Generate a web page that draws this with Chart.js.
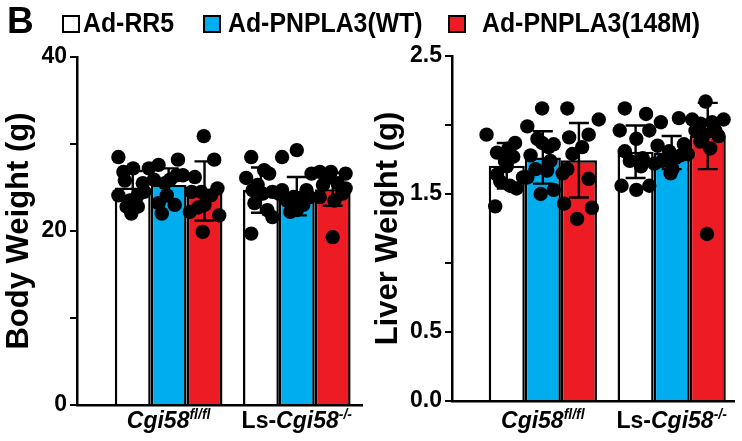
<!DOCTYPE html>
<html><head><meta charset="utf-8">
<script src="https://cdn.jsdelivr.net/npm/chart.js@4.4.1/dist/chart.umd.min.js"></script>
<style>
html,body{margin:0;padding:0;background:#fff;}
#wrap{position:relative;width:742px;height:441px;overflow:hidden;font-family:"Liberation Sans",Arial,sans-serif;color:#000;}
canvas{position:absolute;top:0;}
#c1{left:0;}
#c2{left:370px;}
.t{position:absolute;font-weight:bold;line-height:1;white-space:nowrap;transform-origin:0 0;}
.box{position:absolute;box-sizing:border-box;width:18px;height:18px;border:2px solid #000;top:15px;}
</style></head>
<body><div id="wrap">
<canvas id="c1" width="370" height="441"></canvas>
<canvas id="c2" width="372" height="441"></canvas>
<div class="t" style="left:7px;top:2px;font-size:37px;">B</div>
<div id="legend"></div>
</div>
<script>
// ---- data ----
const groups = ['Cgi58fl/fl', 'Ls-Cgi58-/-'];
const seriesNames = ['Ad-RR5', 'Ad-PNPLA3(WT)', 'Ad-PNPLA3(148M)'];
const seriesColors = ['#ffffff', '#00aeef', '#ed1c24'];

const bodyTickLabels = ['0', '20', '40'];
const liverTickLabels = ['0.0', '0.5', '1.5', '2.5'];

// Body weight (g): mean and SD per group
const bodyMeanRR5 = [25.0, 24.7];
const bodyMeanWT = [25.3, 24.0];
const bodyMean148M = [24.6, 24.8];
const bodySdRR5 = [1.9, 2.6];
const bodySdWT = [1.9, 2.2];
const bodySd148M = [3.4, 1.9];

// Body weight individual points (per group) and horizontal jitter (bar-width units)
const bodyDotsRR5 = [[28.5, 26.8, 27.2, 24.1, 22.8, 22.0, 22.8, 25.5, 24.1, 24.5, 23.5, 25.8],
                     [28.5, 26.1, 25.3, 26.6, 23.2, 22.4, 21.6, 19.7, 24.3, 24.7, 24.5, 27.0]];
const bodyJitRR5 = [[-0.40, -0.26, 0.01, -0.40, -0.17, -0.04, 0.14, 0.28, 0.14, 0.32, -0.08, -0.22],
                    [-0.27, -0.41, -0.09, 0.23, -0.18, 0.18, 0.32, -0.27, 0.05, -0.23, 0.32, 0.09]];
const bodyDotsWT = [[27.6, 27.2, 25.9, 25.5, 28.2, 26.4, 25.9, 23.2, 22.0, 23.0, 24.1, 26.4],
                    [28.5, 29.3, 24.7, 23.9, 22.2, 23.0, 23.9, 22.4, 23.5, 24.7, 23.8, 24.3]];
const bodyJitWT = [[-0.28, -0.55, -0.41, -0.10, 0.26, 0.22, 0.04, -0.28, -0.19, 0.17, -0.05, 0.40],
                   [-0.41, 0.00, -0.41, -0.09, -0.18, 0.18, 0.36, 0.00, -0.27, 0.27, 0.09, -0.50]];
const bodyDots148M = [[30.9, 28.2, 26.2, 24.5, 24.5, 24.9, 22.2, 23.0, 21.8, 19.9, 24.1, 22.7],
                      [26.6, 26.8, 26.8, 26.6, 25.3, 25.5, 24.9, 23.9, 23.5, 24.3, 19.3, 26.1]];
const bodyJit148M = [[-0.02, 0.27, -0.27, -0.36, -0.09, 0.36, -0.41, 0.00, 0.41, -0.05, 0.18, -0.18],
                     [-0.59, -0.36, -0.05, 0.36, -0.27, 0.14, 0.36, -0.36, 0.05, 0.27, 0.00, -0.14]];

// Liver weight (g)
const liverMeanRR5 = [1.705, 1.806];
const liverMeanWT = [1.765, 1.80];
const liverMean148M = [1.745, 1.92];
const liverSdRR5 = [0.165, 0.19];
const liverSdWT = [0.19, 0.12];
const liverSd148M = [0.27, 0.24];

const liverDotsRR5 = [[1.93, 1.80, 1.77, 1.87, 1.74, 1.64, 1.59, 1.56, 1.54, 1.41, 1.62, 1.70, 1.83],
                      [2.12, 2.08, 1.96, 1.96, 1.90, 1.81, 1.74, 1.70, 1.56, 1.53, 1.56, 1.76]];
const liverJitRR5 = [[-0.56, -0.27, 0.18, 0.23, -0.05, -0.27, -0.18, 0.09, 0.27, -0.32, 0.45, 0.00, 0.05],
                     [-0.30, 0.29, -0.44, 0.38, 0.02, -0.30, -0.16, 0.15, -0.39, 0.02, 0.38, 0.20]];
const liverDotsWT = [[1.99, 2.12, 1.90, 1.87, 1.78, 1.84, 1.86, 1.68, 1.67, 1.50, 1.53, 1.62, 1.74],
                     [2.02, 1.85, 1.81, 1.86, 1.74, 1.68, 1.65, 1.78, 2.05, 1.79, 1.72, 1.76]];
const liverJitWT = [[-0.43, -0.02, -0.15, -0.02, -0.34, 0.16, 0.30, -0.20, 0.12, -0.06, 0.30, -0.43, 0.21],
                    [-0.30, -0.39, -0.07, 0.34, -0.25, 0.02, -0.03, 0.25, 0.20, 0.45, -0.48, 0.10]];
const liverDots148M = [[2.12, 2.04, 1.93, 1.91, 1.84, 1.79, 1.68, 1.65, 1.61, 1.43, 1.40, 1.32],
                       [2.17, 2.04, 2.01, 2.02, 2.04, 1.96, 1.92, 1.93, 1.88, 1.83, 1.21, 1.96]];
const liverJit148M = [[-0.32, 0.55, 0.27, -0.27, 0.09, -0.18, -0.32, -0.45, 0.27, -0.41, 0.36, -0.05],
                      [-0.06, -0.43, -0.20, 0.12, 0.44, -0.34, 0.30, -0.11, -0.20, 0.07, -0.02, 0.21]];

// ---- rendering ----
const FONT = '"Liberation Sans", Arial, sans-serif';
Chart.defaults.font.family = FONT;
Chart.defaults.color = '#000';

// HTML legend
(function(){
  const lg = document.getElementById('legend');
  const boxX = [62, 203, 448];
  const textX = [83, 228, 482];
  seriesNames.forEach((n, i) => {
    const b = document.createElement('div');
    b.className = 'box'; b.style.left = boxX[i] + 'px'; b.style.background = seriesColors[i];
    lg.appendChild(b);
    const t = document.createElement('div');
    t.className = 't'; t.textContent = n;
    t.style.left = textX[i] + 'px'; t.style.top = '10px'; t.style.fontSize = '27px';
    t.style.transform = 'scaleX(0.92)';
    lg.appendChild(t);
  });
})();

const CAT_PCT = 0.84;
const barUnit = CAT_PCT / 3;

const groupLabelParts = [
  [{t: 'Cgi58', it: true}, {t: 'fl/fl', it: true, sup: true}],
  [{t: 'Ls-', it: false}, {t: 'Cgi58', it: true}, {t: '-/-', it: true, sup: true}]
];

const errorBarPlugin = {
  id: 'errorBars',
  afterDatasetsDraw(chart) {
    const ctx = chart.ctx, ys = chart.scales.y;
    chart.data.datasets.forEach((ds, i) => {
      if (!ds.sd) return;
      const meta = chart.getDatasetMeta(i);
      meta.data.forEach((el, j) => {
        const m = ds.data[j].y, s = ds.sd[j];
        const yt = ys.getPixelForValue(m + s), yb = ys.getPixelForValue(m - s);
        ctx.save();
        ctx.strokeStyle = '#000'; ctx.lineWidth = 2.4;
        ctx.beginPath();
        ctx.moveTo(el.x, yt); ctx.lineTo(el.x, yb);
        ctx.moveTo(el.x - 10, yt); ctx.lineTo(el.x + 10, yt);
        ctx.moveTo(el.x - 10, yb); ctx.lineTo(el.x + 10, yb);
        ctx.stroke();
        ctx.restore();
      });
    });
  }
};

const xLabelPlugin = {
  id: 'xLabels',
  afterDraw(chart) {
    const ctx = chart.ctx, xs = chart.scales.x;
    const base = 428;
    groupLabelParts.forEach((parts, g) => {
      const fonts = parts.map(p => (p.it ? 'italic ' : '') + 'bold ' + (p.sup ? 14 : 23) + 'px ' + FONT);
      let total = 0;
      const widths = parts.map((p, k) => { ctx.font = fonts[k]; const w = ctx.measureText(p.t).width; total += w; return w; });
      let x = xs.getPixelForValue(g) - total / 2;
      ctx.save();
      ctx.fillStyle = '#000'; ctx.textBaseline = 'alphabetic'; ctx.textAlign = 'left';
      parts.forEach((p, k) => {
        ctx.font = fonts[k];
        ctx.fillText(p.t, x, p.sup ? base - 9 : base);
        x += widths[k];
      });
      ctx.restore();
    });
  }
};

function makeChart(canvasId, cfg) {
  const datasets = [];
  cfg.means.forEach((mean, s) => {
    datasets.push({
      type: 'bar', label: seriesNames[s],
      data: groups.map((g, i) => ({x: i, y: mean[i]})),
      sd: cfg.sds[s],
      backgroundColor: seriesColors[s], borderColor: '#000', borderWidth: 2.5,
      categoryPercentage: CAT_PCT, barPercentage: 1.0, order: 1
    });
  });
  cfg.dots.forEach((dg, s) => {
    const pts = [];
    dg.forEach((vals, g) => vals.forEach((v, k) => {
      pts.push({x: g + (s - 1) * barUnit + cfg.jits[s][g][k] * barUnit, y: v});
    }));
    datasets.push({
      type: 'scatter', label: seriesNames[s] + ' points', data: pts,
      pointRadius: 7.2, pointBackgroundColor: '#000', pointBorderWidth: 0,
      backgroundColor: '#000', order: 0
    });
  });
  return new Chart(document.getElementById(canvasId), {
    type: 'bar',
    data: {datasets},
    options: {
      responsive: false, animation: false,
      layout: {padding: cfg.padding},
      plugins: {legend: {display: false}, tooltip: {enabled: false}},
      scales: {
        x: {
          type: 'linear', min: cfg.xmin, max: cfg.xmax, offset: false,
          afterBuildTicks: sc => { sc.ticks = groups.map((g, i) => ({value: i})); },
          grid: {display: false, drawTicks: false},
          border: {display: true, color: '#000', width: 2.5},
          ticks: {display: false}
        },
        y: {
          min: 0, max: cfg.ymax,
          afterFit: sc => { sc.width = cfg.yWidth; },
          ticks: {
            stepSize: cfg.step, padding: 3,
            font: {size: 23, weight: 'bold'}, color: '#000',
            callback: v => { const l = cfg.fmt(v); return cfg.tickLabels.includes(l) ? l : ''; }
          },
          grid: {display: true, drawOnChartArea: false, drawTicks: true, tickLength: 7, color: '#000', lineWidth: 2},
          border: {display: true, color: '#000', width: 2.5},
          title: {display: true, text: cfg.title, font: {size: 31, weight: 'bold', lineHeight: 1.2}, color: '#000', padding: {top: cfg.titlePad, bottom: 0}}
        }
      }
    },
    plugins: [errorBarPlugin, xLabelPlugin]
  });
}

makeChart('c1', {
  means: [bodyMeanRR5, bodyMeanWT, bodyMean148M],
  sds: [bodySdRR5, bodySdWT, bodySd148M],
  dots: [bodyDotsRR5, bodyDotsWT, bodyDots148M],
  jits: [bodyJitRR5, bodyJitWT, bodyJit148M],
  ymax: 40, step: 10, tickLabels: bodyTickLabels, fmt: v => String(v),
  title: 'Body Weight (g)', titlePad: 1, yWidth: 77,
  xmin: -0.715, xmax: 1.515,
  padding: {left: 0, right: 3, top: 57, bottom: 36}
});

makeChart('c2', {
  means: [liverMeanRR5, liverMeanWT, liverMean148M],
  sds: [liverSdRR5, liverSdWT, liverSd148M],
  dots: [liverDotsRR5, liverDotsWT, liverDots148M],
  jits: [liverJitRR5, liverJitWT, liverJit148M],
  ymax: 2.5, step: 0.5, tickLabels: liverTickLabels, fmt: v => v.toFixed(1),
  title: 'Liver Weight (g)', titlePad: 0, yWidth: 82,
  xmin: -0.705, xmax: 1.49,
  padding: {left: 0, right: 0, top: 56, bottom: 40}
});
</script>
</body></html>
